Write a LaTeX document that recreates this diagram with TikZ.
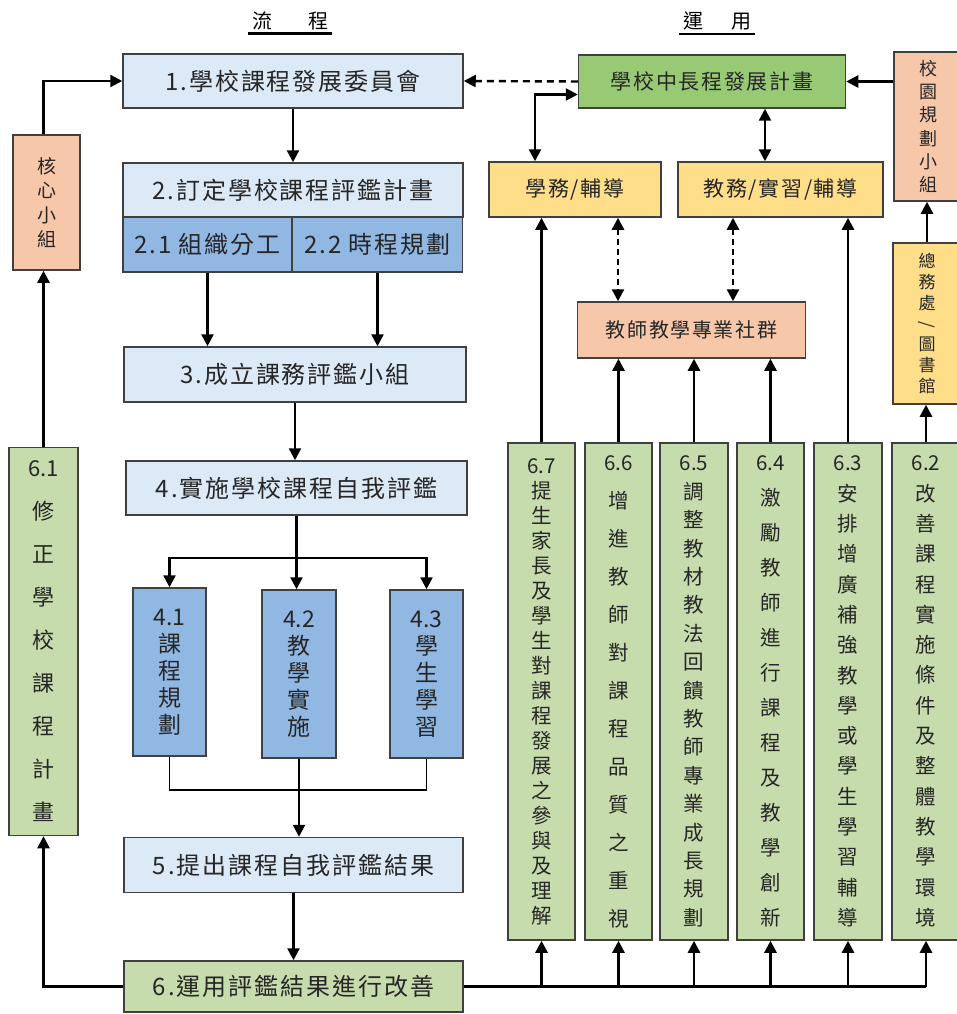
\documentclass[tikz,border=0pt]{standalone}
\usepackage{fontspec}
\newfontfamily\cjk{Noto Sans CJK TC}
\newfontfamily\cjkw[LetterSpace=8]{Noto Sans CJK TC}
\usetikzlibrary{arrows.meta}
\definecolor{lblue}{RGB}{220,233,246}
\definecolor{mblue}{RGB}{145,183,227}
\definecolor{pgreen}{RGB}{198,220,172}
\definecolor{dgreen}{RGB}{152,202,118}
\definecolor{yel}{RGB}{255,222,138}
\definecolor{ora}{RGB}{247,199,170}

\begin{document}
\begin{tikzpicture}[x=1pt,y=-1pt,
  box/.style={draw=black!75,line width=1.5pt,inner sep=1pt,align=center,text=black!85},
  hz/.style={font=\cjkw\fontsize{#1}{#1}\selectfont},
  vt/.style={font=\cjk\fontsize{20.5}{#1}\selectfont},
  arr/.style={line width=2.4pt,-{Triangle[width=12pt,length=12pt]}},
  dbl/.style={line width=2.4pt,{Triangle[width=12pt,length=12pt]}-{Triangle[width=12pt,length=12pt]}},
  ddbl/.style={dbl,dash pattern=on 6pt off 4pt},
  darr/.style={arr,dash pattern=on 7pt off 5pt}]
\useasboundingbox (0,0) rectangle (956,1014);
% titles
\node[font=\cjk\fontsize{20}{24}\selectfont] (tflow) at (290,21) {流\hspace{36pt}程};
\node[font=\cjk\fontsize{20}{24}\selectfont] (tuse) at (717,21) {運\hspace{28pt}用};
\draw[line width=2.5pt] (tflow.south west) -- (tflow.south east);
\draw[line width=2.5pt] (tuse.south west) -- (tuse.south east);
% flow column
\node[box,fill=lblue,hz=24,minimum width=340,minimum height=54] (b1) at (293,81) {1.學校課程發展委員會};
\node[box,fill=lblue,hz=24,minimum width=340,minimum height=54] (b2) at (293,190) {2.訂定學校課程評鑑計畫};
\node[box,fill=mblue,hz=24,minimum width=169,minimum height=55] (b21) at (207.5,244.5) {2.1 組織分工};
\node[box,fill=mblue,hz=24,minimum width=170,minimum height=55] (b22) at (377.5,244.5) {2.2 時程規劃};
\node[box,fill=lblue,hz=24,minimum width=342,minimum height=55] (b3) at (295,374.5) {3.成立課務評鑑小組};
\node[box,fill=lblue,hz=24,minimum width=341,minimum height=54] (b4) at (296.5,488) {4.實施學校課程自我評鑑};
\node[box,fill=mblue,font=\cjk\fontsize{23}{27}\selectfont,minimum width=73,minimum height=168] (b41) at (169.5,672) {4.1\\課\\程\\規\\劃};
\node[box,fill=mblue,font=\cjk\fontsize{23}{27}\selectfont,minimum width=74,minimum height=168] (b42) at (299,674) {4.2\\教\\學\\實\\施};
\node[box,fill=mblue,font=\cjk\fontsize{23}{27}\selectfont,minimum width=73,minimum height=168] (b43) at (426.5,674) {4.3\\學\\生\\學\\習};
\node[box,fill=lblue,hz=24,minimum width=339,minimum height=55] (b5) at (293.5,865) {5.提出課程自我評鑑結果};
\node[box,fill=pgreen,hz=24,minimum width=339,minimum height=51] (b6) at (293.5,986.5) {6.運用評鑑結果進行改善};
% left loop
\node[box,fill=ora,font=\cjk\fontsize{19}{24.3}\selectfont,minimum width=67,minimum height=135] (core) at (46.5,202.5) {核\\心\\小\\組};
\node[box,fill=pgreen,font=\cjk\fontsize{22}{43}\selectfont,minimum width=69,minimum height=388] (b61) at (43.5,641.5) {6.1\\修\\正\\學\\校\\課\\程\\計\\畫};
% use column
\node[box,fill=dgreen,hz=21,minimum width=267,minimum height=53] (plan) at (712,81.5) {學校中長程發展計畫};
\node[box,fill=ora,font=\cjk\fontsize{18}{23.2}\selectfont,minimum width=68,minimum height=149] (campus) at (928,126.5) {校\\園\\規\\劃\\小\\組};
\node[box,fill=yel,hz=21,minimum width=172,minimum height=55] (s1) at (575,189.5) {學務/輔導};
\node[box,fill=yel,hz=21,minimum width=205,minimum height=55] (s2) at (780.5,189.5) {教務/實習/輔導};
\node[box,fill=yel,font=\cjk\fontsize{17}{20.8}\selectfont,minimum width=68,minimum height=161] (general) at (927,323.5) {總\\務\\處\\\rotatebox[origin=c]{-90}{/}\\圖\\書\\館};
\node[box,fill=ora,hz=20,minimum width=228,minimum height=56] (pc) at (691.5,330) {教師教學專業社群};
\node[box,fill=pgreen,vt=25,minimum width=67,minimum height=497] (b67) at (541.5,691.5) {6.7\\提\\生\\家\\長\\及\\學\\生\\對\\課\\程\\發\\展\\之\\參\\與\\及\\理\\解};
\node[box,fill=pgreen,vt=38,minimum width=67,minimum height=497] (b66) at (618.5,691.5) {6.6\\增\\進\\教\\師\\對\\課\\程\\品\\質\\之\\重\\視};
\node[box,fill=pgreen,vt=28.4,minimum width=68,minimum height=497] (b65) at (694,691.5) {6.5\\調\\整\\教\\材\\教\\法\\回\\饋\\教\\師\\專\\業\\成\\長\\規\\劃};
\node[box,fill=pgreen,vt=35,minimum width=67,minimum height=497] (b64) at (770.5,691.5) {6.4\\激\\勵\\教\\師\\進\\行\\課\\程\\及\\教\\學\\創\\新};
\node[box,fill=pgreen,vt=30.3,minimum width=68,minimum height=497] (b63) at (848,691.5) {6.3\\安\\排\\增\\廣\\補\\強\\教\\學\\或\\學\\生\\學\\習\\輔\\導};
\node[box,fill=pgreen,vt=30.3,minimum width=68,minimum height=497] (b62) at (926,691.5) {6.2\\改\\善\\課\\程\\實\\施\\條\\件\\及\\整\\體\\教\\學\\環\\境};
% flow arrows
\draw[arr] (b1.south) -- (b1.south |- b2.north);
\draw[arr] (b21.south) -- (b21.south |- b3.north);
\draw[arr] (b22.south) -- (b22.south |- b3.north);
\draw[arr] (b3.south) -- (b3.south |- b4.north);
\coordinate (fork) at (0,558);
\draw[line width=2.4pt] (b4.south) -- (b4.south |- fork);
\draw[arr] (b4.south |- fork) -| (b41.north);
\draw[arr] (b4.south |- fork) -| (b43.north);
\draw[arr] (b4.south |- fork) -- (b4.south |- b42.north);
\coordinate (join) at (0,790);
\draw[line width=1.3pt] (b41.south) -- (b41.south |- join) -- (b43.south |- join) -- (b43.south);
\draw[arr] (b42.south) -- (b42.south |- b5.north);
\draw[arr] (b5.south) -- (b5.south |- b6.north);
% loop back
\draw[arr] (b6.west) -| (b61.south);
\draw[arr] (b61.north) -- (b61.north |- core.south);
\draw[arr] (b61.north |- core.north) |- (b1.west);
\draw[darr] (plan.west) -- (b1.east);
% use arrows
\draw[arr] (campus.west |- plan.east) -- (plan.east);
\draw[arr] (general.north) -- (general.north |- campus.south);
\draw[dbl] ([yshift=-13pt]plan.west) -| ([xshift=-40pt]s1.north);
\draw[dbl] ([xshift=-15.5pt]s2.north) -- ([xshift=-15.5pt]s2.north |- plan.south);
\draw[ddbl] ([xshift=43pt]s1.south) -- ([xshift=43pt]s1.south |- pc.north);
\draw[ddbl] ([xshift=-47.5pt]s2.south) -- ([xshift=-47.5pt]s2.south |- pc.north);
\draw[arr] (b67.north) -- (b67.north |- s1.south);
\foreach \b in {b66,b65,b64} \draw[arr] (\b.north) -- (\b.north |- pc.south);
\draw[arr] (b63.north) -- (b63.north |- s2.south);
\draw[arr] (b62.north) -- (b62.north |- general.south);
\draw[line width=2.4pt] (b6.east) -- (b6.east -| b62.south);
\foreach \b in {b67,b66,b65,b64,b63,b62} \draw[arr] (\b.south |- b6.east) -- (\b.south);
\end{tikzpicture}
\end{document}
